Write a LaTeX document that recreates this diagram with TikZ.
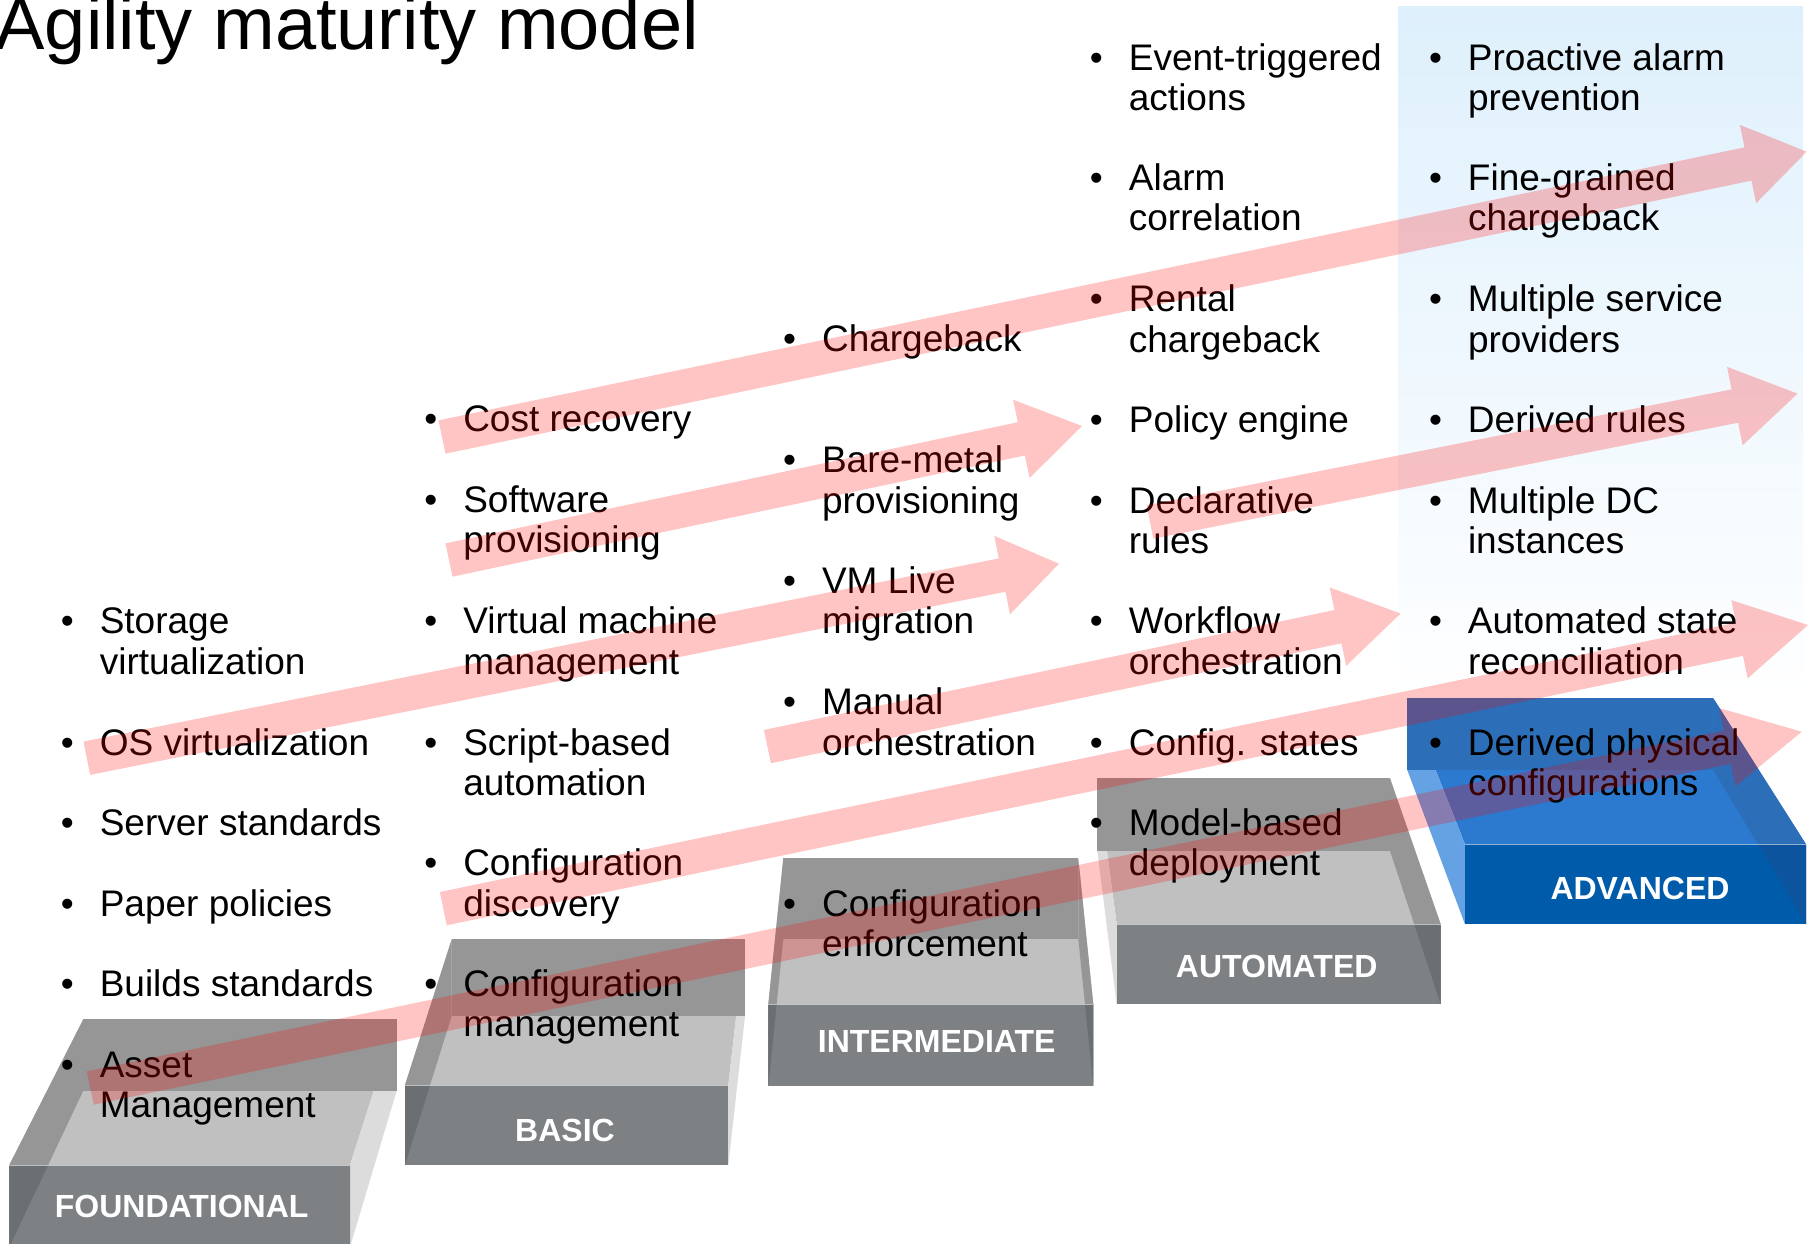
\documentclass[tikz,border=0pt]{standalone}
\usepackage{fontspec}
\setmainfont{Liberation Sans}
\usetikzlibrary{calc}

% palette
\definecolor{stepfront}{RGB}{126,129,132}
\definecolor{stepfrontdark}{RGB}{108,111,114}
\definecolor{stepback}{RGB}{150,150,150}
\definecolor{steptop}{RGB}{192,192,192}
\definecolor{stepside}{RGB}{220,220,220}
\definecolor{advfront}{RGB}{0,92,170}
\definecolor{advfrontdark}{RGB}{12,84,158}
\definecolor{advback}{RGB}{44,110,184}
\definecolor{advtop}{RGB}{43,122,208}
\definecolor{advside}{RGB}{100,162,228}
\definecolor{panelblue}{RGB}{222,240,252}

% bulleted list entries
\newlength\bulletw \setlength\bulletw{39pt}
\newcommand\itemfont{\fontsize{37}{40.5}\selectfont}
\newcommand\bitem[2]{\begin{tabular}[t]{@{}l@{}l@{}}\makebox[\bulletw][l]{\textbullet}&#1\\&#2\end{tabular}}
\newcommand\bitemone[1]{\begin{tabular}[t]{@{}l@{}l@{}}\makebox[\bulletw][l]{\textbullet}&#1\end{tabular}}

% corners of a step: front rectangle and back rectangle
\newcommand\stepcoords[9]{%
  \coordinate (#1-ftl) at (#2,#4); \coordinate (#1-ftr) at (#3,#4);
  \coordinate (#1-fbr) at (#3,#5); \coordinate (#1-fbl) at (#2,#5);
  \coordinate (#1-btl) at (#6,#8); \coordinate (#1-btr) at (#7,#8);
  \coordinate (#1-bbr) at (#7,#9); \coordinate (#1-bbl) at (#6,#9);}

% translucent step: #1 name, #2 palette, #3/#4 left/right side fill,
% #5/#6 tint of the left/right side seen through the front face
\newcommand\stepblock[6]{%
  \fill[#2top] (#1-ftl)--(#1-ftr)--(#1-btr)--(#1-btl)--cycle;
  \fill[#3] (#1-ftl)--(#1-btl)--(#1-bbl)--(#1-fbl)--cycle;
  \fill[#4] (#1-ftr)--(#1-btr)--(#1-bbr)--(#1-fbr)--cycle;
  \fill[#2back] (#1-btl)--(#1-btr)--(#1-bbr)--(#1-bbl)--cycle;
  \fill[#2front] (#1-ftl)--(#1-ftr)--(#1-fbr)--(#1-fbl)--cycle;
  \begin{scope}
    \clip (#1-ftl)--(#1-ftr)--(#1-fbr)--(#1-fbl)--cycle;
    \fill[#5] (#1-ftl)--(#1-btl)--(#1-bbl)--(#1-fbl)--cycle;
    \fill[#6] (#1-ftr)--(#1-btr)--(#1-bbr)--(#1-fbr)--cycle;
  \end{scope}
  \draw[frontedge] (#1-ftl)--(#1-ftr);}

% wide translucent arrow from tail #1 to tip #2, head length #3
\newcommand\shafthw{17pt}
\newcommand\headhw{40pt}
\newcommand\pinkarrow[3]{%
  \coordinate (#1-b) at ($(#2)!#3!(#1)$);
  \fill[arrowfill] ($(#1)!\shafthw!90:(#2)$) -- ($(#1-b)!\shafthw!90:(#2)$)
    -- ($(#1-b)!\headhw!90:(#2)$) -- (#2) -- ($(#1-b)!\headhw!-90:(#2)$)
    -- ($(#1-b)!\shafthw!-90:(#2)$) -- ($(#1)!\shafthw!-90:(#2)$) -- cycle;}

\tikzset{
  itemnode/.style={anchor=base west, inner sep=0pt, font=\itemfont},
  steplabel/.style={text=white, inner sep=0pt, font=\bfseries\fontsize{32}{36}\selectfont},
  frontedge/.style={white, opacity=0.55, line width=1pt},
  arrowfill/.style={fill=red, fill opacity=0.23},
}

\begin{document}
\begin{tikzpicture}[x=1pt,y=-1pt]
\useasboundingbox (0,0) rectangle (1815,1243);
\fill[white] (0,0) rectangle (1815,1243);

% highlighted column behind the last stage
\shade[top color=panelblue, bottom color=white] (1398,6) rectangle (1803,700);

% title
\node[anchor=base east, inner sep=0pt, font=\fontsize{74}{80}\selectfont] (title) at (699,49.5) {Agility maturity model};

% steps
\stepcoords{fnd}{9.3}{350}{1165}{1247}{83.3}{396.7}{1019.3}{1090.7}
\stepcoords{bas}{405}{728.3}{1085}{1165}{451.7}{745}{939.3}{1016}
\stepcoords{imd}{768.3}{1093.3}{1004.3}{1086}{783.3}{1078.3}{858.3}{939}
\stepcoords{aut}{1116.7}{1440.7}{924.3}{1004.3}{1097.3}{1390}{778.3}{851}
\stepcoords{adv}{1465}{1806}{844.3}{924.3}{1407.3}{1713.3}{698.3}{770}

\stepblock{fnd}{step}{stepback}{stepside}{stepfrontdark}{stepfront}
\stepblock{bas}{step}{stepback}{stepside}{stepfrontdark}{stepfront}
\stepblock{imd}{step}{stepback}{stepback}{stepfrontdark}{stepfrontdark}
\stepblock{aut}{step}{stepside}{stepback}{stepfront}{stepfrontdark}
\stepblock{adv}{adv}{advside}{advback}{advfront}{advfrontdark}

\node[steplabel] (lfnd) at (181.7,1206.7) {FOUNDATIONAL};
\node[steplabel] (lbas) at (565,1130) {BASIC};
\node[steplabel] (limd) at (936.7,1041.7) {INTERMEDIATE};
\node[steplabel] (laut) at (1276.7,966.7) {AUTOMATED};
\node[steplabel] (ladv) at (1640,888.3) {ADVANCED};

% foundational
\node[itemnode] (f1) at (60.6,633.7) {\bitem{Storage}{virtualization}};
\node[itemnode] (f2) at (60.6,755.3) {\bitemone{OS virtualization}};
\node[itemnode] (f3) at (60.6,835.2) {\bitemone{Server standards}};
\node[itemnode] (f4) at (60.6,916.2) {\bitemone{Paper policies}};
\node[itemnode] (f5) at (60.6,996.0) {\bitemone{Builds standards}};
\node[itemnode] (f6) at (60.6,1077.1) {\bitem{Asset}{Management}};

% basic
\node[itemnode] (b1) at (424.1,431.2) {\bitemone{Cost recovery}};
\node[itemnode] (b2) at (424.1,512.2) {\bitem{Software}{provisioning}};
\node[itemnode] (b3) at (424.1,633.7) {\bitem{Virtual machine}{management}};
\node[itemnode] (b4) at (424.1,755.3) {\bitem{Script-based}{automation}};
\node[itemnode] (b5) at (424.1,875.6) {\bitem{Configuration}{discovery}};
\node[itemnode] (b6) at (424.1,996.0) {\bitem{Configuration}{management}};

% intermediate
\node[itemnode] (i1) at (782.9,351.3) {\bitemone{Chargeback}};
\node[itemnode] (i2) at (782.9,472.8) {\bitem{Bare-metal}{provisioning}};
\node[itemnode] (i3) at (782.9,593.2) {\bitem{VM Live}{migration}};
\node[itemnode] (i4) at (782.9,714.8) {\bitem{Manual}{orchestration}};
\node[itemnode] (i5) at (782.9,916.2) {\bitem{Configuration}{enforcement}};

% automated
\node[itemnode] (u1) at (1089.7,70.0) {\bitem{Event-triggered}{actions}};
\node[itemnode] (u2) at (1089.7,190.4) {\bitem{Alarm}{correlation}};
\node[itemnode] (u3) at (1089.7,311.9) {\bitem{Rental}{chargeback}};
\node[itemnode] (u4) at (1089.7,432.3) {\bitemone{Policy engine}};
\node[itemnode] (u5) at (1089.7,513.4) {\bitem{Declarative}{rules}};
\node[itemnode] (u6) at (1089.7,633.7) {\bitem{Workflow}{orchestration}};
\node[itemnode] (u7) at (1089.7,755.3) {\bitemone{Config. states}};
\node[itemnode] (u8) at (1089.7,835.2) {\bitem{Model-based}{deployment}};

% advanced
\node[itemnode] (v1) at (1428.8,70.0) {\bitem{Proactive alarm}{prevention}};
\node[itemnode] (v2) at (1428.8,190.4) {\bitem{Fine-grained}{chargeback}};
\node[itemnode] (v3) at (1428.8,311.9) {\bitem{Multiple service}{providers}};
\node[itemnode] (v4) at (1428.8,432.3) {\bitemone{Derived rules}};
\node[itemnode] (v5) at (1428.8,513.4) {\bitem{Multiple DC}{instances}};
\node[itemnode] (v6) at (1428.8,633.7) {\bitem{Automated state}{reconciliation}};
\node[itemnode] (v7) at (1428.8,755.3) {\bitem{Derived physical}{configurations}};

% progression arrows
\coordinate (a1t) at (442,437);    \coordinate (a1h) at (1806.7,151.7);
\coordinate (a2t) at (449,560);    \coordinate (a2h) at (1082,426);
\coordinate (a3t) at (86.8,758.2); \coordinate (a3h) at (1059,563.7);
\coordinate (a4t) at (1150,522);   \coordinate (a4h) at (1797.6,393.6);
\coordinate (a5t) at (767.4,746.6);\coordinate (a5h) at (1400.6,613.5);
\coordinate (a6t) at (443.3,908.6);\coordinate (a6h) at (1808,625);
\coordinate (a7t) at (90.3,1088);  \coordinate (a7h) at (1801.7,731.7);

\pinkarrow{a1t}{a1h}{60pt}
\pinkarrow{a2t}{a2h}{62pt}
\pinkarrow{a3t}{a3h}{58pt}
\pinkarrow{a4t}{a4h}{64pt}
\pinkarrow{a5t}{a5h}{64pt}
\pinkarrow{a6t}{a6h}{70pt}
\pinkarrow{a7t}{a7h}{76pt}
\end{tikzpicture}
\end{document}
